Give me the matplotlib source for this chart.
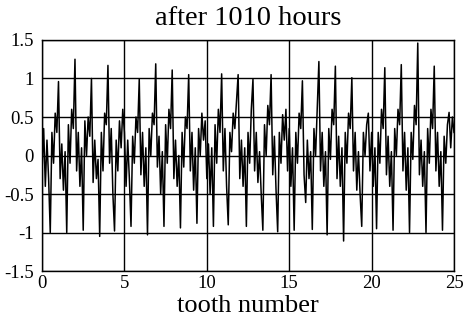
import numpy as np
import matplotlib
matplotlib.use("Agg")
import matplotlib.pyplot as plt

plt.rcParams['font.family'] = ['Liberation Serif', 'DejaVu Serif']
plt.rcParams['axes.unicode_minus'] = False

# signal sampled every 0.1 tooth (one row per tooth)
signal = [
    -0.20, 0.35, -0.40, 0.20, -0.30, -1.00, 0.30, -0.10, 0.55, 0.30,
    0.96, -0.30, 0.15, -0.45, 0.05, -1.00, 0.40, -0.10, 0.60, 0.35,
    1.25, -0.20, 0.30, -0.40, 0.10, -0.97, 0.45, 0.00, 0.50, 0.25,
    1.00, -0.35, 0.20, -0.30, -0.05, -1.05, 0.30, -0.20, 0.55, 0.40,
    1.17, -0.10, 0.35, -0.50, -0.98, 0.20, -0.20, 0.45, 0.10, 0.60,
    0.30, -0.40, 0.20, -0.30, -0.92, 0.25, -0.10, 0.50, 0.30, 0.99,
    -0.25, 0.30, -0.40, 0.10, -1.03, 0.35, 0.00, 0.55, 0.40, 1.19,
    -0.15, 0.25, -0.50, 0.05, -0.92, 0.40, -0.10, 0.60, 0.35, 1.11,
    -0.30, 0.20, -0.40, 0.00, -0.94, 0.30, -0.15, 0.50, 0.35, 1.05,
    -0.20, 0.30, -0.45, 0.10, -0.88, 0.35, 0.00, 0.55, 0.20, 0.45,
    -0.30, 0.15, -0.50, 0.10, -0.92, 0.40, -0.10, 0.60, 0.30, 1.06,
    -0.20, 0.35, -0.40, -0.90, 0.30, 0.05, 0.55, 0.35, 0.70, 1.05,
    -0.30, 0.20, -0.40, 0.10, -0.92, 0.30, -0.10, 0.60, 0.99, -0.20,
    0.30, -0.35, 0.05, -0.50, -0.97, 0.40, 0.00, 0.65, 0.40, 1.05,
    -0.25, 0.25, -0.45, -0.99, 0.30, -0.10, 0.53, 0.20, 0.60, -0.20,
    0.35, -0.40, 0.10, -0.97, 0.30, -0.10, 0.55, 0.35, 0.97, -0.25,
    -0.61, 0.20, -0.30, 0.05, -0.96, 0.35, 0.00, 0.60, 1.22, -0.20,
    0.30, -0.40, 0.05, -1.03, 0.35, -0.05, 0.60, 0.40, 1.16, -0.30,
    0.25, -0.40, 0.10, -1.11, 0.30, -0.10, 0.55, 0.35, 1.01, -0.20,
    0.30, -0.45, 0.05, -0.50, -0.92, 0.30, 0.00, 0.40, 0.55, -0.20,
    0.30, -0.40, 0.10, -0.95, 0.30, -0.10, 0.60, 0.35, 1.14, -0.25,
    0.25, -0.40, 0.05, -0.97, 0.35, 0.00, 0.60, 0.40, 1.18, -0.20,
    0.30, -0.45, 0.10, -1.00, 0.30, -0.05, 0.65, 0.40, 1.46, -0.25,
    0.20, -0.40, 0.05, -1.00, 0.35, -0.10, 0.60, 0.35, 1.16, -0.20,
    0.30, -0.40, 0.05, -0.97, 0.25, -0.10, 0.40, 0.56, 0.10, 0.50,
    0.30,
]
sample_step = 0.1
xticks = [0, 5, 10, 15, 20, 25]
yticks = [-1.5, -1, -0.5, 0, 0.5, 1, 1.5]
ytick_labels = ['-1.5', '-1', '-0.5', '0', '0.5', '1', '1.5']

tooth = np.arange(len(signal)) * sample_step

fig = plt.figure(figsize=(4.70, 3.25), dpi=100)
ax = fig.add_axes([0.0894, 0.166, 0.8766, 0.711])
ax.plot(tooth, signal, color='black', linewidth=1.1)
ax.set_xlim(0, 25)
ax.set_ylim(-1.5, 1.5)
ax.set_xticks(xticks)
ax.set_xticklabels([str(v) for v in xticks])
ax.set_yticks(yticks)
ax.set_yticklabels(ytick_labels)
ax.grid(True, color='black', linewidth=1.0)
ax.set_axisbelow(False)
ax.tick_params(axis='x', length=0, labelsize=13.5, pad=3)
ax.tick_params(axis='y', length=0, labelsize=13.5, pad=6)
for s in ax.spines.values():
    s.set_linewidth(1.0)
ax.set_title('after 1010 hours', fontsize=20.5, pad=11)
ax.set_xlabel('tooth number', fontsize=19, labelpad=2)
fig.savefig('out.png', dpi=100)
